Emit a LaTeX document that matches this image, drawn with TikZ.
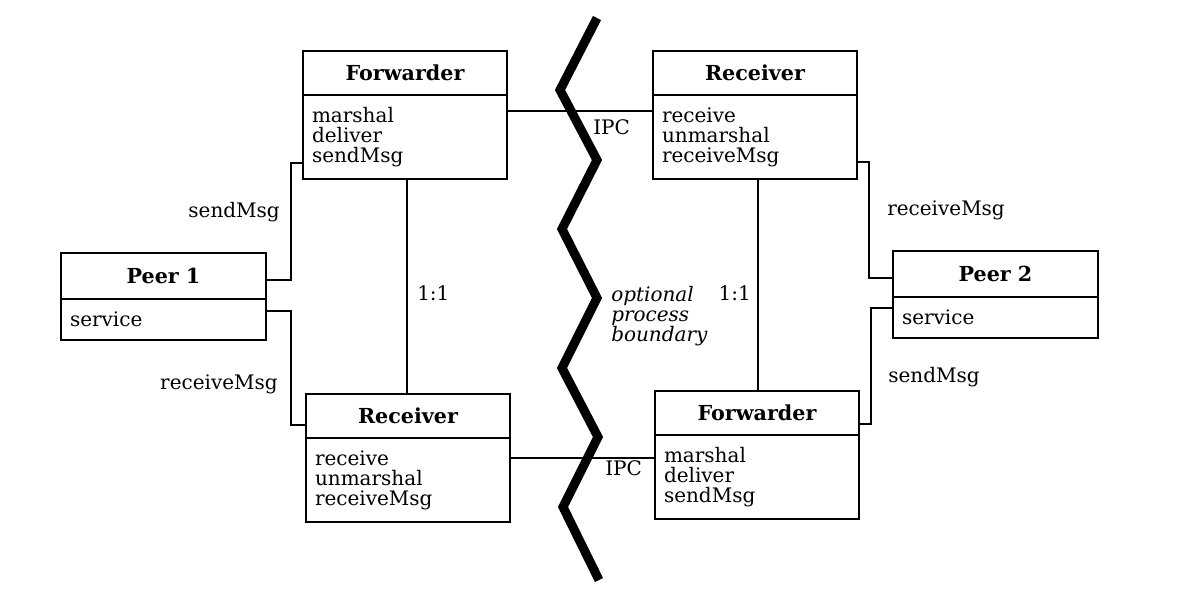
\documentclass[tikz,border=0pt]{standalone}
\usepackage{fontspec}
\setmainfont{DejaVu Serif}
\begin{document}
\begin{tikzpicture}[x=0.75pt,y=-0.75pt,
  every node/.style={font=\fontsize{15pt}{15pt}\selectfont},
  box/.style={draw, line width=1.6pt, inner sep=0pt, outer sep=0pt, anchor=north west},
  hdr/.style={box, minimum width=153pt, minimum height=33pt, font=\fontsize{15.5pt}{15pt}\selectfont\bfseries},
  body/.style={box, minimum height=63pt, text width=139.5pt, inner xsep=6.75pt, align=left},
  phdr/.style={hdr, minimum width=153.75pt, minimum height=34.5pt},
  pbody/.style={body, minimum height=30.75pt, text width=140.25pt},
  conn/.style={line width=1.1pt},
  lbl/.style={inner sep=0pt},
  zig/.style={line width=6.8pt, line join=miter}
]
\useasboundingbox (0,0) rectangle (1182,604);
% Forwarder (top left)
\node[hdr] (fwdAh) at (303,51) {Forwarder};
\node[body] (fwdAb) at (fwdAh.south west) {marshal\\deliver\\sendMsg};
% Receiver (top right)
\node[hdr] (recAh) at (653,51) {Receiver};
\node[body] (recAb) at (recAh.south west) {receive\\unmarshal\\receiveMsg};
% Peer 1
\node[phdr] (p1h) at (61,253) {Peer 1};
\node[pbody] (p1b) at (p1h.south west) {service};
% Peer 2
\node[phdr] (p2h) at (893,251) {Peer 2};
\node[pbody] (p2b) at (p2h.south west) {service};
% Receiver (bottom left)
\node[hdr] (recBh) at (306,394) {Receiver};
\node[body] (recBb) at (recBh.south west) {receive\\unmarshal\\receiveMsg};
% Forwarder (bottom right)
\node[hdr] (fwdBh) at (655,391) {Forwarder};
\node[body] (fwdBb) at (fwdBh.south west) {marshal\\deliver\\sendMsg};
% connectors
\draw[conn] (fwdAb.east |- 0,111) -- (recAb.west |- 0,111);
\draw[conn] (fwdAb.south -| 407,0) -- (recBh.north -| 407,0);
\draw[conn] (p1h.east |- 0,280) -- ++(25,0) |- (fwdAb.west |- 0,163);
\draw[conn] (p1b.east |- 0,311) -- ++(25,0) |- (recBh.west |- 0,425);
\draw[conn] (recAb.east |- 0,162) -- ++(12,0) |- (p2h.west |- 0,278);
\draw[conn] (recAb.south -| 758,0) -- (fwdBh.north -| 758,0);
\draw[conn] (p2b.west |- 0,308) -- ++(-22,0) |- (fwdBh.east |- 0,424);
\draw[conn] (recBb.east |- 0,458) -- (fwdBb.west |- 0,458);
% process boundary
\draw[zig] (597,18) -- (560,90) -- (597,160) -- (562,229) -- (597,298) -- (562,368) -- (598,437) -- (563,507) -- (599,580);
% labels
\node[lbl, anchor=east] (lsend1) at (280,212) {sendMsg};
\node[lbl, anchor=east] (lrecv1) at (278,384) {receiveMsg};
\node[lbl, anchor=west] (l11a) at (417,293) {1:1};
\node[lbl, anchor=east] (l11b) at (751,293) {1:1};
\node[lbl, anchor=west] (lrecv2) at (887,210) {receiveMsg};
\node[lbl, anchor=west] (lsend2) at (888,377) {sendMsg};
\node[lbl, anchor=west] (ipc1) at (593,127) {IPC};
\node[lbl, anchor=west] (ipc2) at (605,468) {IPC};
\node[lbl, anchor=west, align=left, font=\fontsize{15pt}{15pt}\selectfont\itshape] (opb) at (611,316) {optional\\process\\boundary};
\end{tikzpicture}
\end{document}
